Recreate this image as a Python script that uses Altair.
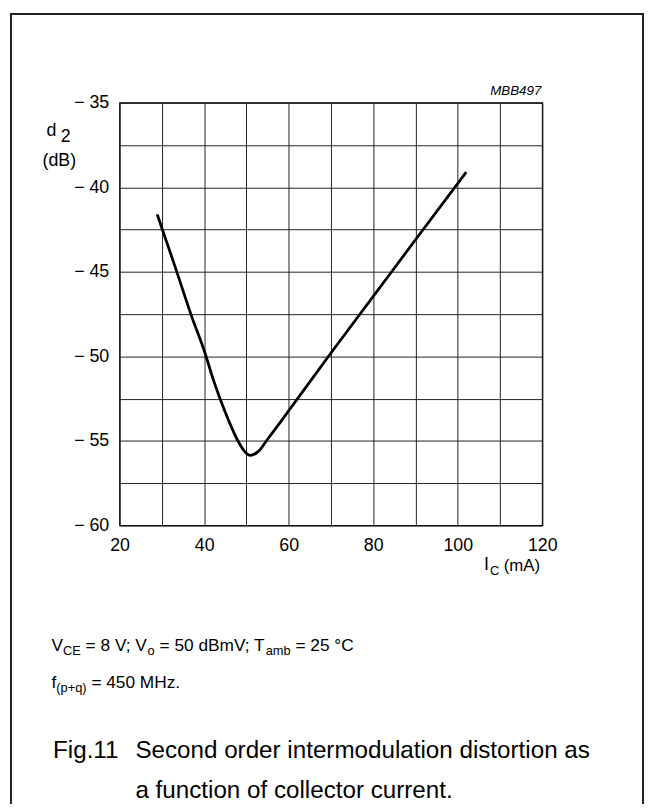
import altair as alt
import pandas as pd

# ---- data ----
ic_ma = [28.9, 33.0, 37.0, 40.2, 42.2, 45.0, 47.8, 49.5, 50.9, 52.9, 55.0, 58.0, 61.8, 70.0, 80.0, 90.0, 102.0]
d2_db = [-41.6, -44.6, -47.6, -49.8, -51.4, -53.3, -54.9, -55.6, -55.85, -55.6, -54.9, -53.9, -52.6, -49.8, -46.45, -43.1, -39.1]
x_ticks = [20, 30, 40, 50, 60, 70, 80, 90, 100, 110, 120]
y_ticks = [-60, -57.5, -55, -52.5, -50, -47.5, -45, -42.5, -40, -37.5, -35]

df = pd.DataFrame({"ic": ic_ma, "d2": d2_db})

FONT = "Liberation Sans, Arial, Helvetica, sans-serif"
CAP_SIZE = 24.5

# plot origin in page pixels
OX, OY = 121, 99
PW, PH = 428, 428

W = {" ": 278, "(": 333, ")": 333, "+": 584, ".": 278, ";": 278, "=": 584, "A": 667, "B": 667,
     "C": 722, "E": 667, "H": 722, "I": 278, "M": 833, "T": 611, "V": 667, "a": 556, "b": 556,
     "d": 556, "f": 278, "m": 833, "o": 556, "p": 556, "q": 556, "z": 500, "\u00b0": 400}


def tw(s, size):
    return sum(W.get(c, 556) for c in s) * size / 1000.0


def piece(text, x, y, size, font=FONT, style="normal", align="left"):
    return alt.Chart(pd.DataFrame({"t": [text]})).mark_text(
        align=align, baseline="alphabetic", font=font, fontSize=size,
        fontStyle=style, color="black"
    ).encode(x=alt.value(x - OX), y=alt.value(y - OY), text="t:N")


def run(x0, base, parts):
    out = []
    x = x0
    for text, size, dy in parts:
        lead = len(text) - len(text.lstrip(" "))
        out.append(piece(text.strip(" "), x + tw(" " * lead, size), base + dy, size))
        x += tw(text, size)
    return out


layers = []

# frame box
box = alt.Chart(pd.DataFrame({"a": [0]})).mark_rect(
    fill="white", fillOpacity=0, stroke="#222", strokeWidth=2
).encode(x=alt.value(11 - OX), x2=alt.value(651 - OX), y=alt.value(9 - OY), y2=alt.value(900))
layers.append(box)

line = alt.Chart(df).mark_line(color="black", strokeWidth=2.8, interpolate="monotone").encode(
    x=alt.X("ic:Q", scale=alt.Scale(domain=[20, 120], nice=False, zero=False),
            axis=alt.Axis(values=x_ticks, grid=True, ticks=False, tickSize=0, domain=False,
                          labelExpr="datum.value % 20 == 0 ? datum.label : ''",
                          labelFont=FONT, labelFontSize=18, labelColor="black",
                          labelPadding=25, labelBaseline="alphabetic",
                          labelOverlap=False, labelFlush=False, title=None,
                          gridColor="#222", gridWidth=1, gridOpacity=1)),
    y=alt.Y("d2:Q", scale=alt.Scale(domain=[-60, -35], nice=False, zero=False),
            axis=alt.Axis(values=y_ticks, grid=True, ticks=False, tickSize=0, domain=False,
                          labelExpr="datum.value % 5 == 0 ? '\u2212\u00a0' + abs(datum.value) : ''",
                          labelFont=FONT, labelFontSize=18, labelColor="black",
                          labelPadding=11, labelBaseline="middle",
                          labelOverlap=False, labelFlush=False, title=None,
                          gridColor="#222", gridWidth=1, gridOpacity=1)),
)
layers.append(line)

# MBB497
layers.append(piece("MBB497", 548, 90.7, 13.5, style="italic", align="right"))

# y axis title  d2 (dB)
layers.append(piece("d", 47, 133, 18))
layers.append(piece("2", 61.5, 138.5, 18))
layers.append(piece("(dB)", 43, 163, 18))

# x axis title  I_C (mA)
layers.append(piece("I", 490, 572, 18))
layers.append(piece("C", 496, 577, 13))
layers.append(piece("(mA)", 510, 573, 17))

# conditions
S1, S2 = 17.5, 13
layers += run(52, 654, [("V", S1, 0), ("CE", S2, 4), (" = 8 V; V", S1, 0), ("o", S2, 4),
                        (" = 50 dBmV; T", S1, 0), ("amb", S2, 4), (" = 25 \u00b0C", S1, 0)])
layers += run(52, 692, [("f", S1, 0), ("(p+q)", S2, 4), (" = 450 MHz.", S1, 0)])

# caption
layers.append(piece("Fig.11", 53.6, 762, CAP_SIZE))
layers.append(piece("Second order intermodulation distortion as", 137, 762, CAP_SIZE))
layers.append(piece("a function of collector current.", 137, 803, CAP_SIZE))

chart = alt.layer(*layers).properties(
    width=PW, height=PH,
    autosize=alt.AutoSizeParams(type="none"),
    padding={"left": OX - 8, "top": OY - 8, "right": 645 - (OX - 8) - PW, "bottom": 796 - (OY - 8) - PH},
    background="white",
).configure_view(stroke="black", strokeWidth=1.3)

chart.save("out.html", embed_options={"renderer": "svg", "actions": False})
